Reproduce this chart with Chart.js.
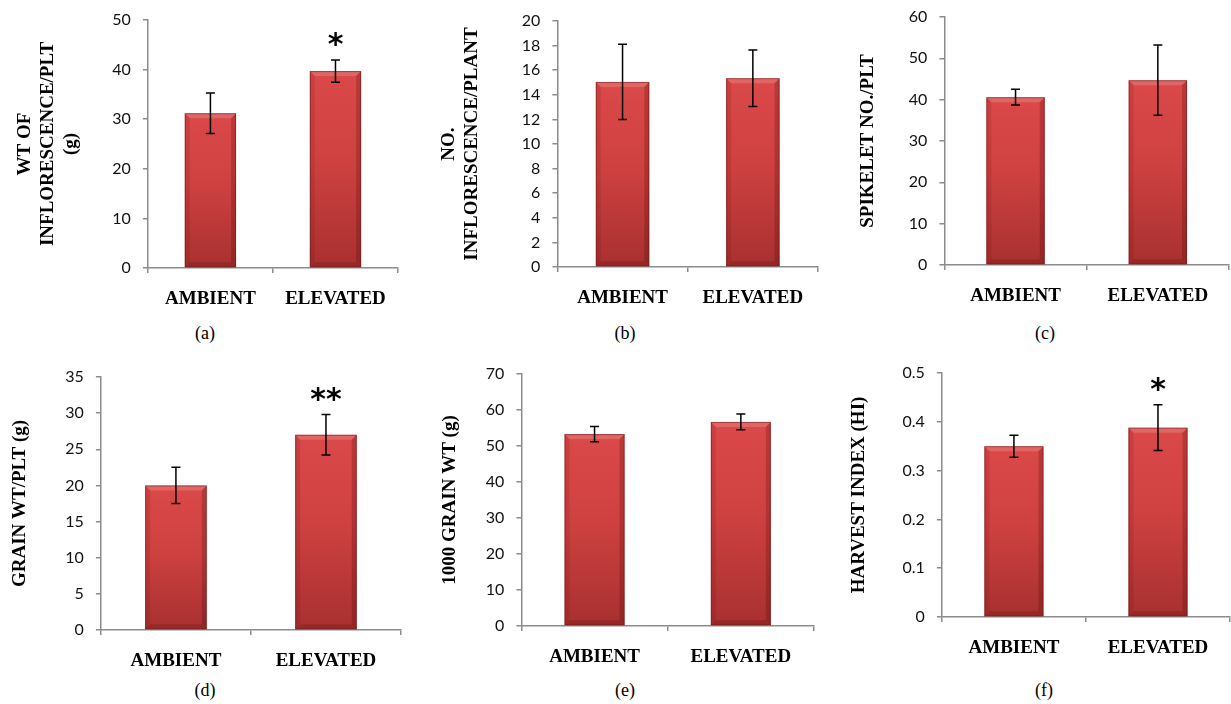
<!DOCTYPE html>
<html><head><meta charset="utf-8">
<script src="https://cdn.jsdelivr.net/npm/chart.js@4.4.1/dist/chart.umd.min.js"></script>
<style>
html,body{margin:0;padding:0;background:#fff;}
body{width:1231px;height:704px;position:relative;overflow:hidden;}
canvas{position:absolute;}
.cap{position:absolute;font-family:'Liberation Serif','Times New Roman',serif;font-size:18px;color:#000;transform:translate(-50%,-50%);white-space:nowrap;}
</style></head><body>
<script>
// ---------- data ----------
const categories = ['AMBIENT', 'ELEVATED'];

const wtInflorescence = [31.2, 39.7];
const wtInflorescenceErr = [4.1, 2.25];
const wtInflorescenceSig = ['', '*'];

const noInflorescence = [15.05, 15.35];
const noInflorescenceErr = [3.05, 2.3];
const noInflorescenceSig = ['', ''];

const spikeletNo = [40.6, 44.7];
const spikeletNoErr = [1.9, 8.5];
const spikeletNoSig = ['', ''];

const grainWt = [20.0, 27.0];
const grainWtErr = [2.5, 2.8];
const grainWtSig = ['', '**'];

const thousandGrainWt = [53.3, 56.7];
const thousandGrainWtErr = [2.15, 2.2];
const thousandGrainWtSig = ['', ''];

const harvestIndex = [0.35, 0.388];
const harvestIndexErr = [0.0225, 0.047];
const harvestIndexSig = ['', '*'];

const yTitles = [
  ['WT OF', 'INFLORESCENCE/PLT', '(g)'],
  ['NO.', 'INFLORESCENCE/PLANT'],
  'SPIKELET NO./PLT',
  'GRAIN WT/PLT (g)',
  '1000 GRAIN WT (g)',
  'HARVEST INDEX (HI)'
];
const yMax = [50, 20, 60, 35, 70, 0.5];
const yStep = [10, 2, 10, 5, 10, 0.1];
const captions = ['(a)', '(b)', '(c)', '(d)', '(e)', '(f)'];

const seriesValues = [wtInflorescence, noInflorescence, spikeletNo, grainWt, thousandGrainWt, harvestIndex];
const seriesErrors = [wtInflorescenceErr, noInflorescenceErr, spikeletNoErr, grainWtErr, thousandGrainWtErr, harvestIndexErr];
const seriesSig = [wtInflorescenceSig, noInflorescenceSig, spikeletNoSig, grainWtSig, thousandGrainWtSig, harvestIndexSig];

// ---------- layout (positions only) ----------
const panelBoxes = [
  {L:148, T:20,  R:398,  B:268, t1:25.5, capX:205,  capY:333},
  {L:557, T:21,  R:818,  B:267, t1:449,  capX:625,  capY:333},
  {L:944, T:17,  R:1229, B:265, t1:868,  capX:1045, capY:333},
  {L:101, T:377, R:401,  B:630, t1:20.5, capX:205,  capY:690},
  {L:521, T:374, R:814,  B:626, t1:450,  capX:625,  capY:690},
  {L:942, T:373, R:1230, B:617, t1:859.5,capX:1044, capY:690}
];

const AXIS = '#8c8c8c';
const serif = "'Liberation Serif','Times New Roman',serif";
const sans = "Lato, 'Open Sans', sans-serif";
const TITLE_LH = 22.8;
const PAD_TOP = 26, X_H = 44, PAD_R = 4;

const barFill = (ctx) => {
  const chart = ctx.chart;
  const ys = chart.scales && chart.scales.y;
  if (!ys || ctx.raw == null) return '#c93d3d';
  const top = ys.getPixelForValue(ctx.raw);
  const bot = ys.getPixelForValue(0);
  if (!isFinite(top) || !isFinite(bot) || bot - top < 1) return '#c93d3d';
  const g = chart.ctx.createLinearGradient(0, top, 0, bot);
  g.addColorStop(0, '#db4949');
  g.addColorStop(0.45, '#cf4141');
  g.addColorStop(1, '#a83030');
  return g;
};

const bevelPlugin = {
  id: 'bevel',
  afterDatasetsDraw(chart) {
    const c = chart.ctx;
    const meta = chart.getDatasetMeta(0);
    meta.data.forEach(el => {
      const w = el.width, l = el.x - w / 2, r = el.x + w / 2, t = el.y, b = el.base;
      const e = 5;
      c.save();
      c.fillStyle = 'rgba(255,255,255,0.16)';
      c.beginPath(); c.moveTo(l, t); c.lineTo(r, t); c.lineTo(r - e, t + e); c.lineTo(l + e, t + e); c.closePath(); c.fill();
      c.fillStyle = 'rgba(90,0,0,0.12)';
      c.beginPath(); c.moveTo(l, t); c.lineTo(l + e, t + e); c.lineTo(l + e, b - e); c.lineTo(l, b); c.closePath(); c.fill();
      c.fillStyle = 'rgba(70,0,0,0.22)';
      c.beginPath(); c.moveTo(r, t); c.lineTo(r - e, t + e); c.lineTo(r - e, b - e); c.lineTo(r, b); c.closePath(); c.fill();
      c.fillStyle = 'rgba(70,0,0,0.18)';
      c.beginPath(); c.moveTo(l, b); c.lineTo(l + e, b - e); c.lineTo(r - e, b - e); c.lineTo(r, b); c.closePath(); c.fill();
      c.strokeStyle = 'rgba(110,30,30,0.55)';
      c.lineWidth = 1;
      c.strokeRect(l + 0.5, t + 0.5, w - 1, b - t - 1);
      c.restore();
    });
  }
};

const errorPlugin = {
  id: 'errbars',
  afterDatasetsDraw(chart, args, opts) {
    const c = chart.ctx, ys = chart.scales.y;
    const ds = chart.data.datasets[0];
    const meta = chart.getDatasetMeta(0);
    meta.data.forEach((el, i) => {
      const v = ds.data[i], e = opts.errors[i];
      const yHi = ys.getPixelForValue(v + e), yLo = ys.getPixelForValue(v - e);
      const x = el.x, cw = 4.5;
      c.save();
      c.strokeStyle = '#000'; c.lineWidth = 1.5;
      c.beginPath();
      c.moveTo(x, yHi); c.lineTo(x, yLo);
      c.moveTo(x - cw, yHi); c.lineTo(x + cw, yHi);
      c.moveTo(x - cw, yLo); c.lineTo(x + cw, yLo);
      c.stroke();
      const s = opts.sig[i];
      if (s) {
        c.font = "bold 30px 'DejaVu Sans', sans-serif";
        c.fillStyle = '#000';
        c.textAlign = 'center';
        c.textBaseline = 'alphabetic';
        const m = c.measureText(s);
        const midOff = (m.actualBoundingBoxAscent - m.actualBoundingBoxDescent) / 2;
        c.fillText(s, x, yHi - 20 + midOff);
      }
      c.restore();
    });
  }
};

panelBoxes.forEach((p, k) => {
  const canvasLeft = p.t1 - TITLE_LH / 2;
  const yW = p.L - canvasLeft;
  const W = Math.round(p.R - canvasLeft + PAD_R);
  const H = Math.round(p.B - p.T + PAD_TOP + X_H);
  const cv = document.createElement('canvas');
  cv.width = W; cv.height = H;
  cv.style.left = canvasLeft + 'px';
  cv.style.top = (p.T - PAD_TOP) + 'px';
  cv.style.width = W + 'px'; cv.style.height = H + 'px';
  document.body.appendChild(cv);

  new Chart(cv, {
    type: 'bar',
    data: {
      labels: categories,
      datasets: [{
        data: seriesValues[k],
        backgroundColor: barFill,
        borderWidth: 0,
        categoryPercentage: 1,
        barPercentage: 0.41
      }]
    },
    options: {
      responsive: false,
      animation: false,
      devicePixelRatio: 1,
      layout: { padding: { top: PAD_TOP, right: PAD_R, left: 0, bottom: 0 } },
      plugins: {
        legend: { display: false },
        tooltip: { enabled: false },
        title: { display: false },
        errbars: { errors: seriesErrors[k], sig: seriesSig[k] }
      },
      scales: {
        x: {
          grid: { display: true, drawOnChartArea: false, drawTicks: true, tickLength: 5, color: AXIS, lineWidth: 1.5, offset: true },
          border: { display: true, color: AXIS, width: 1.5 },
          ticks: { color: '#000', padding: 15, font: { family: serif, size: 19, weight: 'bold' }, maxRotation: 0, autoSkip: false },
          afterFit(s) { s.height = X_H; }
        },
        y: {
          min: 0, max: yMax[k],
          grid: { display: true, drawOnChartArea: false, drawTicks: true, tickLength: 5, color: AXIS, lineWidth: 1.5 },
          border: { display: true, color: AXIS, width: 1.5 },
          ticks: { stepSize: yStep[k], color: '#111', padding: 12, font: { family: sans, size: 16 } },
          title: { display: true, text: yTitles[k], color: '#000', padding: 0, font: { family: serif, size: 19, weight: 'bold', lineHeight: 1.2 } },
          afterFit(s) { s.width = yW; }
        }
      }
    },
    plugins: [bevelPlugin, errorPlugin]
  });

  const cap = document.createElement('div');
  cap.className = 'cap';
  cap.textContent = captions[k];
  cap.style.left = p.capX + 'px';
  cap.style.top = p.capY + 'px';
  document.body.appendChild(cap);
});
</script>
</body></html>
